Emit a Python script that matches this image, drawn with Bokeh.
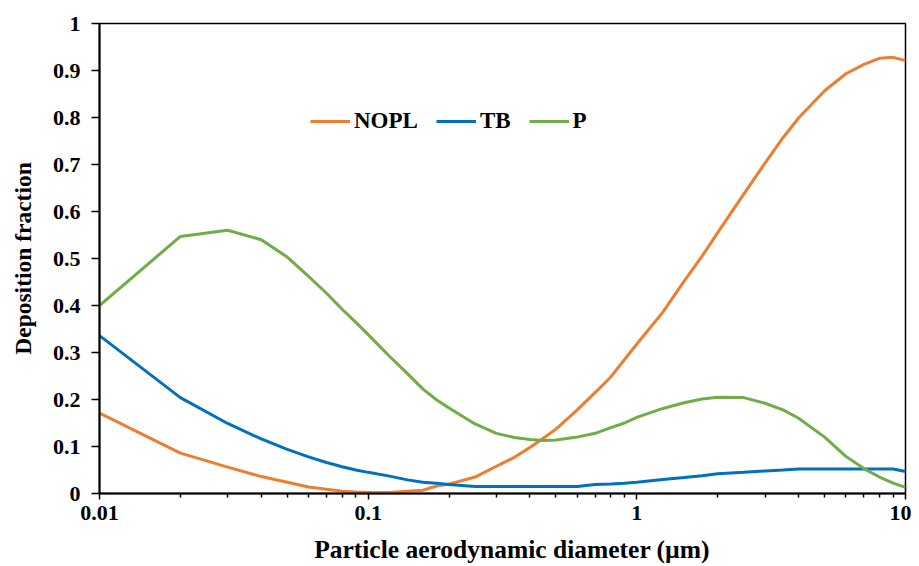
from bokeh.plotting import figure
from bokeh.models import FixedTicker, CustomJSTickFormatter, Legend, LegendItem, Range1d
from bokeh.embed import file_html
from bokeh.resources import INLINE

# Data
diameter = [0.01, 0.02, 0.03, 0.04, 0.05, 0.06, 0.07, 0.08, 0.09, 0.1,
            0.12, 0.14, 0.16, 0.18, 0.2, 0.25, 0.3, 0.35, 0.4, 0.45,
            0.5, 0.6, 0.7, 0.8, 0.9, 1.0, 1.25, 1.5, 1.75, 2.0,
            2.5, 3.0, 3.5, 4.0, 5.0, 6.0, 7.0, 8.0, 9.0, 10.0]

nopl = [0.171, 0.086, 0.056, 0.036, 0.024, 0.014, 0.009, 0.005, 0.003, 0.002,
        0.002, 0.005, 0.007, 0.016, 0.020, 0.035, 0.058, 0.077, 0.098, 0.118,
        0.137, 0.178, 0.215, 0.248, 0.285, 0.318, 0.386, 0.452, 0.505, 0.555,
        0.637, 0.703, 0.757, 0.799, 0.857, 0.893, 0.913, 0.926, 0.928, 0.921]

tb = [0.336, 0.204, 0.149, 0.116, 0.094, 0.078, 0.066, 0.057, 0.050, 0.045,
      0.037, 0.029, 0.024, 0.022, 0.019, 0.015, 0.015, 0.015, 0.015, 0.015,
      0.015, 0.015, 0.019, 0.020, 0.022, 0.024, 0.030, 0.034, 0.038, 0.042,
      0.045, 0.048, 0.050, 0.052, 0.052, 0.052, 0.052, 0.052, 0.052, 0.047]

p_frac = [0.400, 0.547, 0.560, 0.540, 0.503, 0.462, 0.426, 0.392, 0.364, 0.338,
          0.292, 0.255, 0.222, 0.199, 0.182, 0.148, 0.128, 0.119, 0.115, 0.113,
          0.114, 0.120, 0.128, 0.140, 0.150, 0.162, 0.181, 0.193, 0.201, 0.205,
          0.204, 0.192, 0.178, 0.160, 0.120, 0.079, 0.053, 0.035, 0.022, 0.013]

series_names = ["NOPL", "TB", "P"]
series_colors = ["#ED7D31", "#0070C0", "#70AD47"]

x_major = [0.01, 0.1, 1, 10]
x_minor = [m * d for d in [0.01, 0.1, 1] for m in range(2, 10)]
y_ticks = [0, 0.1, 0.2, 0.3, 0.4, 0.5, 0.6, 0.7, 0.8, 0.9, 1.0]

FONT = "Liberation Serif"

p = figure(width=911, height=566, x_axis_type="log",
           x_range=Range1d(0.01, 10), y_range=Range1d(0, 1),
           output_backend="svg", toolbar_location=None,
           min_border_left=99, min_border_right=6,
           min_border_top=23, min_border_bottom=73)

p.xgrid.visible = False
p.ygrid.visible = False
p.outline_line_color = "black"
p.outline_line_width = 1.5
p.background_fill_color = "white"
p.border_fill_color = "white"

renderers = []
for ys, name, col in zip([nopl, tb, p_frac], series_names, series_colors):
    r = p.line(diameter, ys, line_color=col, line_width=3)
    renderers.append((name, r))

# X axis
xa = p.xaxis[0]
xa.ticker = FixedTicker(ticks=x_major, minor_ticks=x_minor)
xa.formatter = CustomJSTickFormatter(code="return String(tick);")
xa.axis_label = "\u00a0\u00a0\u00a0\u00a0Particle  aerodynamic diameter (\u00b5m)"
xa.axis_line_width = 2
xa.major_tick_in = 0
xa.major_tick_out = 6
xa.minor_tick_in = 0
xa.minor_tick_out = 4
xa.major_tick_line_width = 1.5
xa.minor_tick_line_width = 1.5
xa.major_label_standoff = 6
xa.axis_label_standoff = 12

# Y axis
ya = p.yaxis[0]
ya.ticker = FixedTicker(ticks=y_ticks, minor_ticks=[])
ya.formatter = CustomJSTickFormatter(code="return String(parseFloat(tick.toFixed(1)));")
ya.axis_label = "Deposition fraction"
ya.axis_line_width = 2
ya.major_tick_in = 0
ya.major_tick_out = 8
ya.major_tick_line_width = 1.5
ya.minor_tick_line_color = None
ya.major_label_standoff = 11
ya.axis_label_standoff = 14

for ax in (xa, ya):
    ax.major_label_text_font = FONT
    ax.major_label_text_font_style = "bold"
    ax.major_label_text_font_size = "22px"
    ax.major_label_text_color = "black"
    ax.axis_label_text_font = FONT
    ax.axis_label_text_font_style = "bold"
    ax.axis_label_text_color = "black"
    ax.axis_line_color = "black"
    ax.major_tick_line_color = "black"

xa.axis_label_text_font_size = "25.5px"
ya.axis_label_text_font_size = "23.5px"
xa.minor_tick_line_color = "black"

legend = Legend(items=[LegendItem(label=n, renderers=[r]) for n, r in renderers],
                orientation="horizontal", location=(211, 359),
                label_text_font=FONT, label_text_font_style="bold",
                label_text_font_size="23px", label_text_color="black",
                glyph_width=40, glyph_height=24, label_height=24,
                label_standoff=4, spacing=18, padding=0, margin=0,
                border_line_color=None, background_fill_alpha=0)
p.add_layout(legend)

open("out.html", "w").write(file_html(p, INLINE))
